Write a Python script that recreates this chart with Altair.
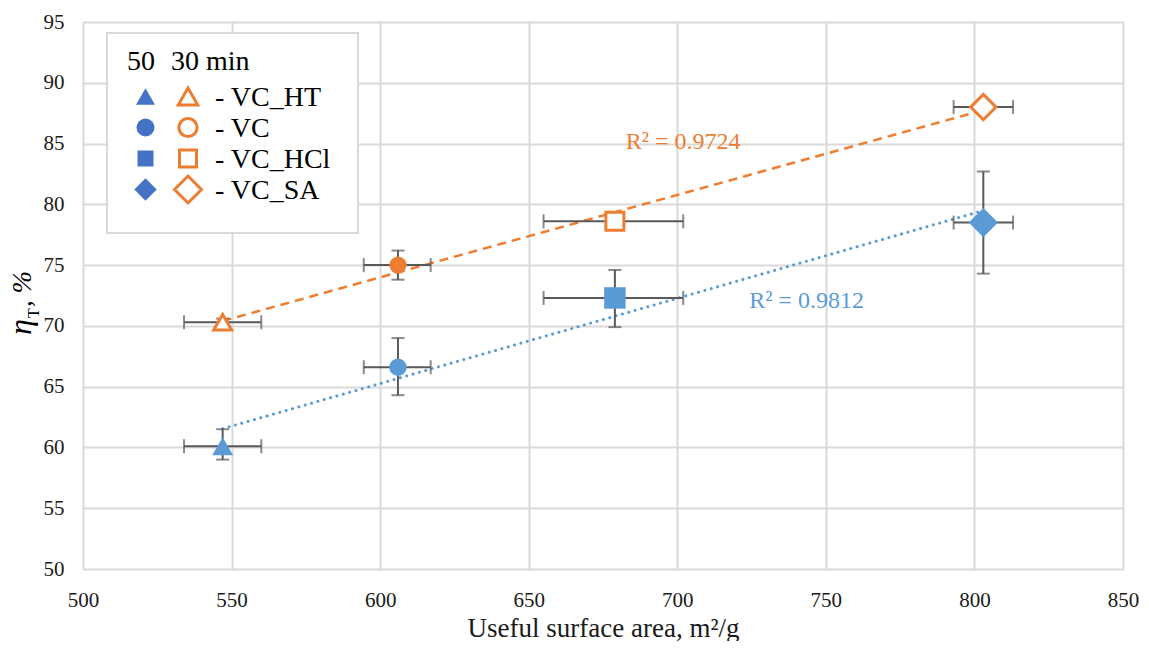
import altair as alt
import pandas as pd

# ---- data ----
samples = ["VC_HT", "VC", "VC_HCl", "VC_SA"]
shapes = ["triangle-up", "circle", "square", "diamond"]
x_area = [547, 606, 679, 803]
x_lo = [534, 594.5, 655, 793]
x_hi = [560, 617, 702, 813]
eta50 = [60.1, 66.6, 72.3, 78.5]
eta50_lo = [59.0, 64.3, 69.9, 74.3]
eta50_hi = [61.5, 69.0, 74.6, 82.7]
eta30 = [70.3, 75.0, 78.6, 88.0]
eta30_lo = [70.0, 73.8, 78.45, 87.5]
eta30_hi = [70.6, 76.2, 78.75, 88.6]
r2_labels = ["R² = 0.9812", "R² = 0.9724"]
r2_x = [743.5, 702]
r2_y = [72.05, 85.1]
x_ticks = [500, 550, 600, 650, 700, 750, 800, 850]
y_ticks = [50, 55, 60, 65, 70, 75, 80, 85, 90, 95]
legend_titles = ["50", "30 min"]

BLUE = "#5B9BD5"
BLUE_LEG = "#4472C4"
ORANGE = "#ED7D31"
GRAY = "#595959"
FONT = "Liberation Serif"

df50 = pd.DataFrame({"sample": samples, "x": x_area, "xlo": x_lo, "xhi": x_hi,
                     "y": eta50, "ylo": eta50_lo, "yhi": eta50_hi})
df30 = pd.DataFrame({"sample": samples, "x": x_area, "xlo": x_lo, "xhi": x_hi,
                     "y": eta30, "ylo": eta30_lo, "yhi": eta30_hi})
dfall = pd.concat([df50, df30], ignore_index=True)
r2df = pd.DataFrame({"label": r2_labels, "x": r2_x, "y": r2_y, "c": [BLUE, ORANGE]})
one = pd.DataFrame({"a": [0]})

xs = alt.Scale(domain=[500, 850], nice=False)
ys = alt.Scale(domain=[50, 95], nice=False)
X = alt.X("x:Q", scale=xs, axis=alt.Axis(values=x_ticks, format="d", labelFlush=False,
          title="Useful surface area, m²/g"))
Y = alt.Y("y:Q", scale=ys, axis=alt.Axis(values=y_ticks, format="d", labelFlush=False,
          title=None))
shape_scale = alt.Scale(domain=samples, range=shapes)

# trend lines
trend50 = alt.Chart(df50).transform_regression("x", "y").mark_line(
    color=BLUE, strokeWidth=3, strokeDash=[0.1, 6.5], strokeCap="round").encode(x=X, y=Y)
trend30 = alt.Chart(df30).transform_regression("x", "y").mark_line(
    color=ORANGE, strokeWidth=2.5, strokeDash=[9, 6]).encode(x=X, y=Y)

# error bars
hbar = alt.Chart(dfall).mark_rule(color=GRAY, strokeWidth=2).encode(
    x=alt.X("xlo:Q", scale=xs), x2="xhi:Q", y=alt.Y("y:Q", scale=ys))
vbar = alt.Chart(dfall).mark_rule(color=GRAY, strokeWidth=2).encode(
    x=alt.X("x:Q", scale=xs), y=alt.Y("ylo:Q", scale=ys), y2="yhi:Q")
capl = alt.Chart(dfall).mark_tick(color=GRAY, orient="vertical", size=14, thickness=2).encode(
    x=alt.X("xlo:Q", scale=xs), y=alt.Y("y:Q", scale=ys))
capr = alt.Chart(dfall).mark_tick(color=GRAY, orient="vertical", size=14, thickness=2).encode(
    x=alt.X("xhi:Q", scale=xs), y=alt.Y("y:Q", scale=ys))
capb = alt.Chart(dfall).mark_tick(color=GRAY, orient="horizontal", size=13, thickness=2).encode(
    x=alt.X("x:Q", scale=xs), y=alt.Y("ylo:Q", scale=ys))
capt = alt.Chart(dfall).mark_tick(color=GRAY, orient="horizontal", size=13, thickness=2).encode(
    x=alt.X("x:Q", scale=xs), y=alt.Y("yhi:Q", scale=ys))

pts50 = alt.Chart(df50).transform_calculate(sz="datum.sample").mark_point(
    filled=True, opacity=1, color=BLUE).encode(
    x=X, y=Y,
    shape=alt.Shape("sample:N", scale=shape_scale, legend=None),
    size=alt.Size("sz:N", scale=alt.Scale(type="ordinal", domain=samples,
                                          range=[441, 300, 460, 860]), legend=None))

pts30 = alt.Chart(df30).transform_calculate(sz="datum.sample").mark_point(
    filled=True, opacity=1, stroke=ORANGE, strokeWidth=3).encode(
    x=X, y=Y,
    fill=alt.condition(alt.datum.sample == "VC", alt.value(ORANGE), alt.value("white")),
    shape=alt.Shape("sample:N", scale=shape_scale, legend=None),
    size=alt.Size("sz:N", scale=alt.Scale(type="ordinal", domain=samples,
                                          range=[324, 200, 324, 640]), legend=None))

r2 = alt.Chart(r2df).mark_text(font=FONT, fontSize=24, align="center", baseline="middle").encode(
    x=alt.X("x:Q", scale=xs), y=alt.Y("y:Q", scale=ys), text="label:N",
    color=alt.Color("c:N", scale=None))

# ---- legend (drawn as decoration inside the plot) ----
LEG_FS = 28
box = alt.Chart(one).mark_rect(fill="white", stroke="#D9D9D9", strokeWidth=2).encode(
    x=alt.value(24), x2=alt.value(275), y=alt.value(11), y2=alt.value(211))
leg_layers = [
    alt.Chart(one).mark_text(text=legend_titles[0], font=FONT, fontSize=LEG_FS, align="left",
                             baseline="alphabetic", color="black").encode(
        x=alt.value(44), y=alt.value(48)),
    alt.Chart(one).mark_text(text=legend_titles[1], font=FONT, fontSize=LEG_FS, align="left",
                             baseline="alphabetic", color="black").encode(
        x=alt.value(88), y=alt.value(48)),
]
leg_size50 = {"triangle-up": 361, "circle": 324, "square": 256, "diamond": 500}
leg_size30 = {"triangle-up": 384, "circle": 330, "square": 289, "diamond": 729}
for i, (s, shp) in enumerate(zip(samples, shapes)):
    row_y = 74.5 + 31 * i
    leg_layers.append(alt.Chart(one).mark_point(
        shape=shp, size=leg_size50[shp], filled=True, opacity=1, color=BLUE_LEG).encode(
        x=alt.value(62.5), y=alt.value(row_y)))
    leg_layers.append(alt.Chart(one).mark_point(
        shape=shp, size=leg_size30[shp], filled=False, opacity=1, color=ORANGE,
        strokeWidth=3).encode(x=alt.value(105), y=alt.value(row_y)))
    leg_layers.append(alt.Chart(one).mark_text(
        text="- " + s, font=FONT, fontSize=LEG_FS, align="left", baseline="alphabetic",
        color="black").encode(x=alt.value(132), y=alt.value(row_y + 9)))

# y-axis title  η_T, %
t_eta = alt.Chart(one).mark_text(text="η", font=FONT, fontSize=32, fontStyle="italic",
                                 angle=270, align="left", baseline="alphabetic").encode(
    x=alt.value(-52), y=alt.value(313))
t_T = alt.Chart(one).mark_text(text="T", font=FONT, fontSize=16,
                               angle=270, align="left", baseline="alphabetic").encode(
    x=alt.value(-44), y=alt.value(296))
t_pc = alt.Chart(one).mark_text(text=", %", font=FONT, fontSize=27, fontStyle="italic",
                                angle=270, align="left", baseline="alphabetic").encode(
    x=alt.value(-52), y=alt.value(285))

chart = alt.layer(
    trend50, trend30, hbar, vbar, capl, capr, capb, capt, pts50, pts30, r2,
    t_eta, t_T, t_pc, box, *leg_layers
).resolve_scale(shape="independent", size="independent").properties(
    width=1040, height=547,
    autosize=alt.AutoSizeParams(type="none"),
    padding={"left": 75, "top": 14, "right": 17, "bottom": 72},
).configure_view(stroke=None).configure_axis(
    grid=True, gridColor="#D9D9D9", gridWidth=2, domain=False, ticks=False,
    labelFont=FONT, labelFontSize=21, labelColor="#1a1a1a",
    titleFont=FONT, titleFontSize=27, titleFontWeight="normal", titleColor="#1a1a1a",
).configure_axisX(labelPadding=20, titlePadding=5).configure_axisY(labelPadding=19)

chart.save("out.html", embed_options={"renderer": "svg", "actions": False})
